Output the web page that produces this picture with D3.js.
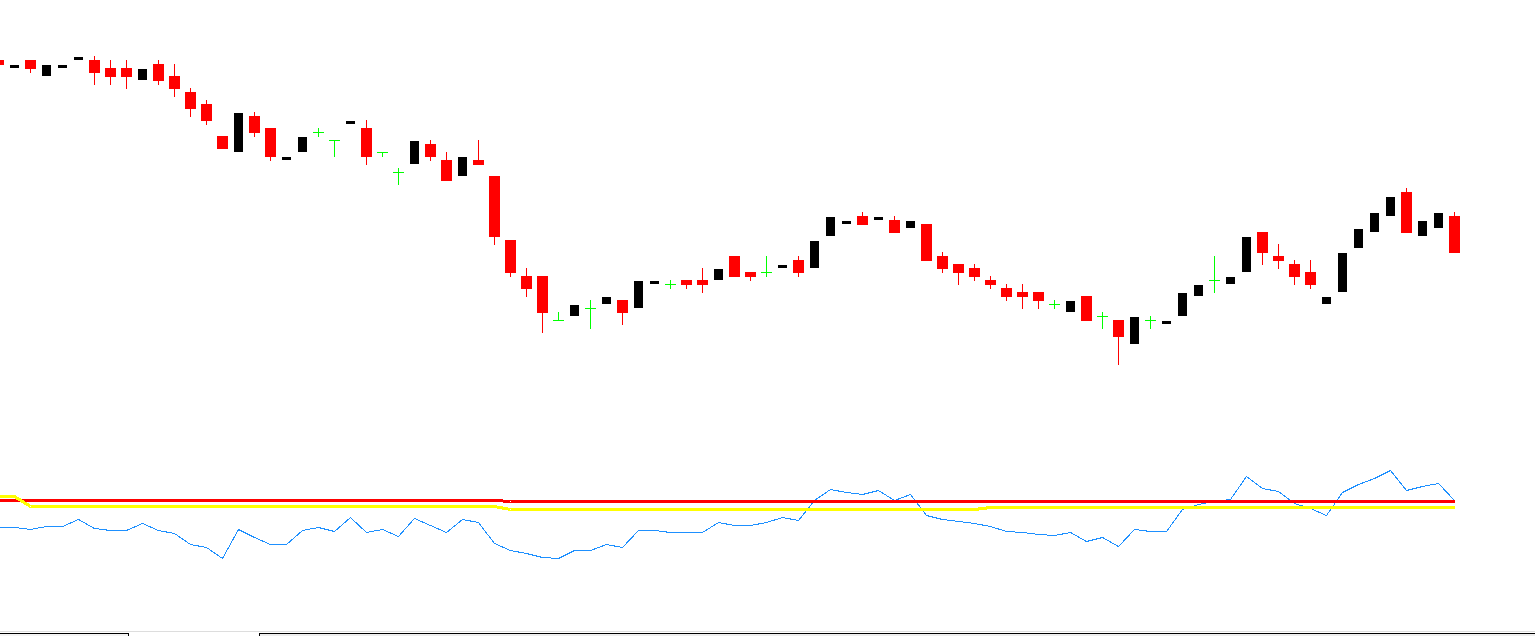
<!DOCTYPE html>
<html lang="en">
  <head>
    <meta charset="utf-8" />
    <title>Candles with oscillator</title>
    <script src="https://d3js.org/d3.v7.min.js"></script>
    <style>
      html, body {
        margin: 0;
        padding: 0;
        background: #ffffff;
        overflow: hidden;
      }
      svg {
        display: block;
      }
    </style>
  </head>
  <body>
    <div id="chart"></div>
  </body>
  <script>
    // OHLC of the visible bars, oldest first
    const open = [
      1.1440, 1.1432, 1.1440, 1.1424, 1.1432, 1.1440, 1.1440, 1.1432, 1.1432, 1.1420,
      1.1436, 1.1424, 1.1408, 1.1396, 1.1364, 1.1348, 1.1384, 1.1372, 1.1340, 1.1348,
      1.1368, 1.1360, 1.1376, 1.1372, 1.1348, 1.1328, 1.1336, 1.1356, 1.1340, 1.1324,
      1.1340, 1.1324, 1.1260, 1.1224, 1.1224, 1.1180, 1.1184, 1.1192, 1.1196, 1.1200,
      1.1192, 1.1216, 1.1216, 1.1220, 1.1220, 1.1220, 1.1244, 1.1228, 1.1228, 1.1232,
      1.1240, 1.1232, 1.1264, 1.1276, 1.1284, 1.1280, 1.1280, 1.1272, 1.1276, 1.1244,
      1.1236, 1.1232, 1.1220, 1.1212, 1.1208, 1.1208, 1.1196, 1.1188, 1.1204, 1.1184,
      1.1180, 1.1156, 1.1180, 1.1176, 1.1184, 1.1204, 1.1220, 1.1216, 1.1228, 1.1268,
      1.1244, 1.1236, 1.1228, 1.1196, 1.1208, 1.1252, 1.1268, 1.1284, 1.1308, 1.1264,
      1.1272, 1.1284
    ];
    const high = [
      1.1440, 1.1435, 1.1440, 1.1435, 1.1435, 1.1443, 1.1444, 1.1440, 1.1440, 1.1431,
      1.1440, 1.1436, 1.1412, 1.1400, 1.1364, 1.1387, 1.1388, 1.1372, 1.1343, 1.1363,
      1.1372, 1.1360, 1.1379, 1.1380, 1.1348, 1.1332, 1.1359, 1.1360, 1.1348, 1.1343,
      1.1360, 1.1324, 1.1260, 1.1232, 1.1224, 1.1188, 1.1195, 1.1200, 1.1203, 1.1200,
      1.1219, 1.1219, 1.1220, 1.1220, 1.1232, 1.1231, 1.1244, 1.1228, 1.1244, 1.1235,
      1.1244, 1.1259, 1.1283, 1.1279, 1.1288, 1.1283, 1.1284, 1.1279, 1.1276, 1.1248,
      1.1236, 1.1236, 1.1224, 1.1216, 1.1216, 1.1208, 1.1200, 1.1199, 1.1204, 1.1188,
      1.1180, 1.1183, 1.1184, 1.1179, 1.1207, 1.1215, 1.1244, 1.1223, 1.1263, 1.1268,
      1.1256, 1.1240, 1.1240, 1.1203, 1.1247, 1.1271, 1.1287, 1.1303, 1.1312, 1.1279,
      1.1287, 1.1288
    ];
    const low = [
      1.1435, 1.1432, 1.1427, 1.1424, 1.1432, 1.1440, 1.1415, 1.1415, 1.1411, 1.1420,
      1.1415, 1.1403, 1.1383, 1.1375, 1.1351, 1.1348, 1.1363, 1.1339, 1.1340, 1.1348,
      1.1363, 1.1343, 1.1376, 1.1335, 1.1343, 1.1315, 1.1336, 1.1339, 1.1319, 1.1324,
      1.1335, 1.1255, 1.1223, 1.1203, 1.1167, 1.1179, 1.1184, 1.1171, 1.1196, 1.1175,
      1.1192, 1.1216, 1.1211, 1.1211, 1.1207, 1.1220, 1.1223, 1.1219, 1.1223, 1.1232,
      1.1223, 1.1232, 1.1264, 1.1276, 1.1275, 1.1280, 1.1267, 1.1272, 1.1239, 1.1227,
      1.1215, 1.1219, 1.1211, 1.1199, 1.1191, 1.1191, 1.1191, 1.1188, 1.1179, 1.1171,
      1.1135, 1.1156, 1.1171, 1.1176, 1.1184, 1.1204, 1.1207, 1.1216, 1.1228, 1.1235,
      1.1231, 1.1215, 1.1211, 1.1196, 1.1208, 1.1252, 1.1268, 1.1284, 1.1267, 1.1264,
      1.1272, 1.1247
    ];
    const close = [
      1.1435, 1.1435, 1.1431, 1.1435, 1.1435, 1.1443, 1.1427, 1.1423, 1.1423, 1.1431,
      1.1419, 1.1411, 1.1391, 1.1379, 1.1351, 1.1387, 1.1367, 1.1343, 1.1343, 1.1363,
      1.1368, 1.1360, 1.1379, 1.1343, 1.1348, 1.1328, 1.1359, 1.1343, 1.1319, 1.1343,
      1.1335, 1.1263, 1.1227, 1.1211, 1.1187, 1.1180, 1.1195, 1.1192, 1.1203, 1.1187,
      1.1219, 1.1219, 1.1216, 1.1215, 1.1215, 1.1231, 1.1223, 1.1223, 1.1228, 1.1235,
      1.1227, 1.1259, 1.1283, 1.1279, 1.1275, 1.1283, 1.1267, 1.1279, 1.1239, 1.1231,
      1.1227, 1.1223, 1.1215, 1.1203, 1.1203, 1.1199, 1.1196, 1.1199, 1.1179, 1.1184,
      1.1163, 1.1183, 1.1180, 1.1179, 1.1207, 1.1215, 1.1220, 1.1223, 1.1263, 1.1247,
      1.1239, 1.1223, 1.1215, 1.1203, 1.1247, 1.1271, 1.1287, 1.1303, 1.1267, 1.1279,
      1.1287, 1.1247
    ];

    // Oscillator window: main line and its two level lines
    const oscLine = [
      36.5, 36.5, 35.5, 37.0, 37.0, 40.5, 36.0, 35.0, 35.0, 38.5,
      35.0, 33.5, 28.0, 26.7, 21.2, 35.4, 31.7, 28.0, 28.0, 35.0,
      36.4, 34.5, 41.4, 34.2, 35.4, 32.0, 41.0, 37.5, 34.2, 40.4,
      39.2, 28.7, 25.0, 23.4, 21.4, 20.9, 25.0, 25.0, 27.9, 26.4,
      34.9, 34.9, 34.0, 34.0, 34.0, 39.0, 37.5, 37.5, 39.0, 41.4,
      40.0, 50.0, 55.3, 54.0, 53.0, 55.0, 50.0, 53.0, 42.5, 40.3,
      39.3, 38.3, 37.0, 34.3, 33.8, 33.0, 32.5, 34.0, 29.5, 31.4,
      27.0, 35.4, 34.5, 34.5, 45.5, 48.0, 49.5, 50.7, 62.0, 55.8,
      54.3, 48.5, 46.0, 42.4, 54.0, 57.8, 60.8, 65.0, 55.0, 57.0,
      58.3, 50.0
    ];
    const upperLevel = [].concat(d3.range(32).map(() => 50.0), d3.range(60).map(() => 49.5));
    const lowerLevel = [].concat(
      [52.0, 52.0],
      d3.range(30).map(() => 47.0),
      d3.range(30).map(() => 45.5),
      d3.range(30).map(() => 46.5)
    );

    const width = 1535;
    const height = 636;

    // Bars are 16px apart, the first one half hidden at the left edge
    const x = d3.scaleLinear().domain([0, 91]).range([-2, 1454]);
    const y = d3.scaleLinear().domain([1.15, 1.1436]).range([0, 64]);
    const yOsc = d3.scaleLinear().domain([0, 100]).range([600, 400]);

    const px = (v) => Math.round(v);

    let svg = d3
      .select("#chart")
      .append("svg")
      .attr("width", width)
      .attr("height", height);

    svg.append("rect").attr("width", width).attr("height", height).attr("fill", "#ffffff");

    const bars = open.map((o, i) => ({
      i: i,
      o: o,
      h: high[i],
      l: low[i],
      c: close[i],
      kind: close[i] > o ? "bull" : close[i] < o ? "bear" : "doji",
    }));

    const colors = { bull: "#000000", bear: "#ff0000", doji: "#00ff00" };
    const wickColors = { bull: "#ffffff", bear: "#ff0000", doji: "#00ff00" };

    let g = svg.append("g").attr("shape-rendering", "crispEdges");

    // wicks first, bodies on top
    g.selectAll("rect.wick")
      .data(bars)
      .enter()
      .append("rect")
      .attr("class", "wick")
      .attr("x", (d) => px(x(d.i)))
      .attr("y", (d) => px(y(d.h)))
      .attr("width", 1)
      .attr("height", (d) => Math.max(0, px(y(d.l)) - px(y(d.h))))
      .attr("fill", (d) => wickColors[d.kind]);

    g.selectAll("rect.body")
      .data(bars)
      .enter()
      .append("rect")
      .attr("class", "body")
      .attr("x", (d) => px(x(d.i)) - (d.kind === "bull" ? 4 : 5))
      .attr("y", (d) => px(y(Math.max(d.o, d.c))))
      .attr("width", (d) => (d.kind === "bull" ? 9 : 11))
      .attr("height", (d) =>
        d.kind === "doji" ? 1 : px(y(Math.min(d.o, d.c))) - px(y(Math.max(d.o, d.c)))
      )
      .attr("fill", (d) => colors[d.kind]);

    // Oscillator lines
    const oscPath = (values) =>
      d3
        .line()
        .x((d, i) => px(x(i)) + 0.5)
        .y((d) => px(yOsc(d)) + 0.5)(values);

    svg.append("path")
      .attr("d", oscPath(oscLine))
      .attr("fill", "none")
      .attr("stroke", "#1e90ff")
      .attr("stroke-width", 1)
      .attr("shape-rendering", "crispEdges");

    svg.append("path")
      .attr("d", oscPath(upperLevel))
      .attr("fill", "none")
      .attr("stroke", "#ff0000")
      .attr("stroke-width", 3)
      .attr("shape-rendering", "crispEdges");

    svg.append("path")
      .attr("d", oscPath(lowerLevel))
      .attr("fill", "none")
      .attr("stroke", "#ffff00")
      .attr("stroke-width", 3)
      .attr("shape-rendering", "crispEdges");

    // Window tabs along the bottom edge
    let tabs = svg.append("g").attr("shape-rendering", "crispEdges");
    tabs.append("rect").attr("x", 0).attr("y", 631).attr("width", width).attr("height", 1).attr("fill", "#dddddd");
    tabs.append("rect").attr("x", 0).attr("y", 634).attr("width", 128).attr("height", 2).attr("fill", "#f4f4f4");
    tabs.append("rect").attr("x", 259).attr("y", 634).attr("width", width - 259).attr("height", 2).attr("fill", "#eeeeee");
    tabs.append("rect").attr("x", 0).attr("y", 633).attr("width", 129).attr("height", 1).attr("fill", "#000000");
    tabs.append("rect").attr("x", 128).attr("y", 633).attr("width", 1).attr("height", 3).attr("fill", "#000000");
    tabs.append("rect").attr("x", 259).attr("y", 633).attr("width", width - 259).attr("height", 1).attr("fill", "#000000");
    tabs.append("rect").attr("x", 259).attr("y", 633).attr("width", 1).attr("height", 3).attr("fill", "#000000");
  </script>
</html>
